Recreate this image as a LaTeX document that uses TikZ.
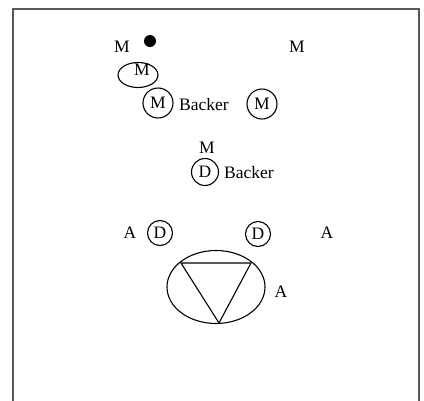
\documentclass[tikz,border=0pt]{standalone}
\usepackage{fontspec}
\setmainfont{Liberation Serif}
\usepackage{tikz}
\usetikzlibrary{shapes.geometric}

\tikzset{
  lbl/.style={inner sep=0pt, font=\fontsize{17.5}{20}\selectfont},
  player/.style={circle, draw, line width=1.1pt, inner sep=0pt, minimum size=#1pt, font=\fontsize{17.5}{20}\selectfont},
  player/.default=28
}

\begin{document}
\begin{tikzpicture}[x=1pt, y=-1pt]
\useasboundingbox (0,0) rectangle (424,400);
\draw[gray!70!black, line width=1.5pt] (13,9) rectangle (419,410);
% top row
\fill[black] (150,41) circle (6);
\node[lbl] (m1) at (122,47) {M};
\node[lbl] (m2) at (297,47) {M};
\node[ellipse, draw, line width=1.1pt, inner sep=0pt, minimum width=40pt, minimum height=25pt] (m3) at (138,75) {};
\node[lbl] (m3t) at (142,70) {M};
% backers
\node[player=30] (m4) at (158,103) {M};
\node[lbl, anchor=west] (b1) at (179,105) {Backer};
\node[player=30] (m5) at (262,104) {M};
\node[lbl] (m6) at (207,148) {M};
\node[player=27] (d1) at (205,172) {D};
\node[lbl, anchor=west] (b2) at (224,173) {Backer};
% D row
\node[lbl] (a1) at (130,233) {A};
\node[player=25] (d2) at (160,233) {D};
\node[player=25] (d3) at (258,234) {D};
\node[lbl] (a2) at (327,233) {A};
% goal
\node[ellipse, draw, line width=1.1pt, minimum width=98pt, minimum height=73pt] (g) at (216,287) {};
\coordinate (t1) at (181,263);
\coordinate (t2) at (251,263);
\coordinate (t3) at (219,323);
\draw[line width=1.1pt] (t1) -- (t2) -- (t3) -- cycle;
\node[lbl] (a3) at (281,292) {A};
\end{tikzpicture}
\end{document}
